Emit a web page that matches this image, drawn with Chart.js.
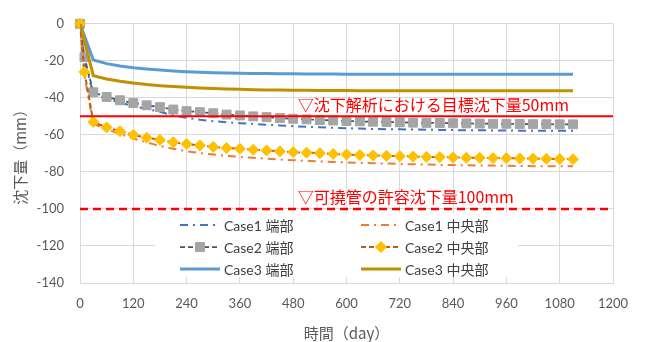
<!DOCTYPE html>
<html>
<head>
<meta charset="utf-8">
<script src="https://cdn.jsdelivr.net/npm/chart.js@4.4.1/dist/chart.umd.min.js"></script>
<style>
  html, body { margin: 0; padding: 0; background: #ffffff; }
  #wrap { width: 645px; height: 342px; }
</style>
</head>
<body>
<div id="wrap"><canvas id="c" width="645" height="342"></canvas></div>
<script>
// 経過日数
const days = [0, 10, 30, 60, 90, 120, 150, 180, 210, 240, 270, 300, 330, 360, 390, 420,
  450, 480, 510, 540, 570, 600, 630, 660, 690, 720, 750, 780, 810, 840, 870, 900,
  930, 960, 990, 1020, 1050, 1080, 1110];

// 沈下量 (mm)
const case1Edge = [0, -20, -38, -40.5, -42.5, -44.5, -46, -47.5, -49.5, -50.8, -51.8, -52.6,
  -53.2, -53.7, -54.1, -54.5, -54.9, -55.3, -55.6, -55.9, -56.2, -56.4, -56.6, -56.8,
  -56.9, -57.0, -57.1, -57.2, -57.3, -57.4, -57.5, -57.5, -57.6, -57.6, -57.7, -57.7,
  -57.8, -57.8, -57.8];
const case1Center = [0, -28, -54, -57, -59.5, -62, -64, -66, -67.5, -68.8, -69.8, -70.6,
  -71.3, -71.9, -72.4, -72.9, -73.3, -73.7, -74, -74.3, -74.6, -74.9, -75.1, -75.3,
  -75.5, -75.7, -75.9, -76, -76.2, -76.3, -76.4, -76.5, -76.6, -76.7, -76.8, -76.9,
  -76.9, -77, -77];
const case2Edge = [0, -18, -37, -39.5, -41.3, -42.8, -44, -45, -46.3, -47.2, -47.7, -48.3,
  -49, -49.5, -50, -50.4, -50.9, -51.3, -51.6, -52, -52.2, -52.5, -52.7, -52.9,
  -53.1, -53.2, -53.4, -53.5, -53.6, -53.7, -53.8, -53.9, -54, -54, -54.1, -54.2,
  -54.2, -54.3, -54.3];
const case2Center = [0, -26, -53, -56, -58, -60, -61.5, -62.7, -64, -64.9, -65.7, -66.5,
  -67.1, -67.5, -68, -68.4, -68.9, -69.3, -69.6, -69.9, -70.3, -70.6, -70.9, -71.1,
  -71.3, -71.5, -71.7, -71.9, -72, -72.2, -72.3, -72.4, -72.5, -72.6, -72.7, -72.8,
  -72.9, -73, -73.1];
const case3Edge = [0, null, -19.5, -21.5, -22.8, -23.7, -24.4, -25, -25.5, -25.9, -26.2, -26.4,
  -26.6, -26.7, -26.8, -26.9, -27, -27, -27.1, -27.1, -27.1, -27.2, -27.2, -27.2,
  -27.2, -27.2, -27.2, -27.2, -27.2, -27.2, -27.2, -27.2, -27.2, -27.2, -27.2, -27.2,
  -27.2, -27.2, -27.2];
const case3Center = [0, null, -28, -29.8, -31, -32, -32.8, -33.4, -33.9, -34.3, -34.7, -35,
  -35.2, -35.4, -35.6, -35.7, -35.8, -35.9, -35.9, -36, -36, -36, -36.1, -36.1,
  -36.1, -36.1, -36.1, -36.1, -36.1, -36.1, -36.1, -36.1, -36.1, -36.1, -36.1, -36.1,
  -36.1, -36.1, -36.1];

// 基準線
const limitDays = [0, 1200];
const targetSettlement = -50;     // 目標沈下量
const allowableSettlement = -100; // 許容沈下量

const seriesNames = ['Case1 端部', 'Case1 中央部', 'Case2 端部', 'Case2 中央部', 'Case3 端部', 'Case3 中央部'];
const targetLabel = '▽沈下解析における目標沈下量50mm';
const allowableLabel = '▽可撓管の許容沈下量100mm';

// 軸範囲
const xMin = 0, xMax = 1200, xStep = 120;
const yMin = -140, yMax = 0, yStep = 20;

const FONT = "Lato, 'Noto Sans CJK JP', sans-serif";
const JPFONT = "'Noto Sans CJK JP', Lato, sans-serif";

const pts = arr => days.map((d, i) => ({ x: d, y: arr[i] }));
const flat = v => limitDays.map(d => ({ x: d, y: v }));

const datasets = [
  { label: 'target', data: flat(targetSettlement), borderColor: '#ff0000', borderWidth: 2,
    pointRadius: 0, order: 0 },
  { label: 'allowable', data: flat(allowableSettlement), borderColor: '#ff0000', borderWidth: 2.5,
    borderDash: [8, 5], pointRadius: 0, order: 0 },
  { label: seriesNames[0], data: pts(case1Edge), borderColor: '#4472c4', borderWidth: 2,
    borderDash: [8, 5, 2, 5], pointRadius: 0, order: 6 },
  { label: seriesNames[1], data: pts(case1Center), borderColor: '#ed7d31', borderWidth: 2,
    borderDash: [8, 5, 2, 5], pointRadius: 0, order: 5 },
  { label: seriesNames[2], data: pts(case2Edge), borderColor: '#44546a', borderWidth: 1.75,
    borderDash: [5, 3], pointStyle: 'rect', pointRadius: 6.3, pointBackgroundColor: '#a5a5a5',
    pointBorderColor: '#a5a5a5', pointBorderWidth: 1, order: 4, clip: false },
  { label: seriesNames[3], data: pts(case2Center), borderColor: '#c55a11', borderWidth: 2,
    borderDash: [5, 3], pointStyle: 'rectRot', pointRadius: 5.5, pointBackgroundColor: '#ffc000',
    pointBorderColor: '#ffc000', pointBorderWidth: 1, order: 3, clip: false },
  { label: seriesNames[4], data: pts(case3Edge), borderColor: '#5b9bd5', borderWidth: 3,
    pointRadius: 0, spanGaps: true, order: 2 },
  { label: seriesNames[5], data: pts(case3Center), borderColor: '#bf9000', borderWidth: 3,
    pointRadius: 0, spanGaps: true, order: 1 }
];

// 凡例と注記の描画
const overlay = {
  id: 'overlay',
  afterDraw(chart) {
    const { ctx, scales: { x, y } } = chart;
    ctx.save();
    // 注記
    ctx.fillStyle = '#ff0000';
    ctx.font = '16px ' + JPFONT;
    ctx.textAlign = 'left';
    ctx.textBaseline = 'alphabetic';
    ctx.fillText(targetLabel, x.getPixelForValue(490), y.getPixelForValue(targetSettlement) - 5);
    ctx.fillText(allowableLabel, x.getPixelForValue(490), y.getPixelForValue(allowableSettlement) - 6);

    // 凡例
    const boxL = 155, boxT = 213, boxR = 518, boxB = 277;
    ctx.fillStyle = '#ffffff';
    ctx.fillRect(boxL, boxT, boxR - boxL, boxB - boxT);
    const cols = [180, 361];
    const rows = [225, 247, 269];
    const items = datasets.slice(2);
    items.forEach((ds, i) => {
      const cx = cols[i % 2];
      const cy = rows[Math.floor(i / 2)];
      ctx.save();
      ctx.strokeStyle = ds.borderColor;
      ctx.lineWidth = ds.borderWidth;
      ctx.setLineDash(ds.borderDash || []);
      ctx.beginPath();
      ctx.moveTo(cx, cy);
      ctx.lineTo(cx + 40, cy);
      ctx.stroke();
      ctx.restore();
      if (ds.pointRadius > 0) {
        ctx.save();
        ctx.fillStyle = ds.pointBackgroundColor;
        ctx.strokeStyle = ds.pointBorderColor;
        ctx.lineWidth = 1;
        Chart.helpers.drawPoint(ctx, {
          pointStyle: ds.pointStyle, radius: ds.pointRadius, borderWidth: 1, rotation: 0
        }, cx + 20, cy);
        ctx.restore();
      }
      ctx.fillStyle = '#404040';
      ctx.font = '14px ' + FONT;
      ctx.textAlign = 'left';
      ctx.textBaseline = 'middle';
      ctx.fillText(ds.label, cx + 44, cy + 1);
    });
    ctx.restore();
  }
};

new Chart(document.getElementById('c'), {
  type: 'line',
  data: { datasets },
  options: {
    responsive: false,
    animation: false,
    devicePixelRatio: 1,
    layout: { padding: { left: 0, right: 32, top: 13, bottom: 0 } },
    plugins: { legend: { display: false }, tooltip: { enabled: false } },
    elements: { line: { tension: 0 } },
    scales: {
      x: {
        type: 'linear', min: xMin, max: xMax,
        ticks: { stepSize: xStep, color: '#595959', font: { family: FONT, size: 13 }, padding: 13,
          maxRotation: 0, callback: v => String(v) },
        grid: { color: '#d9d9d9', drawTicks: false },
        border: { color: '#d9d9d9' },
        title: { display: true, text: '時間（day）', color: '#595959',
          font: { family: JPFONT, size: 15 }, padding: { top: 4, bottom: 0 } },
        afterFit(s) { s.height = 59; }
      },
      y: {
        type: 'linear', min: yMin, max: yMax,
        ticks: { stepSize: yStep, color: '#595959', font: { family: FONT, size: 13 }, padding: 16,
          callback: v => String(v) },
        grid: { color: '#d9d9d9', drawTicks: false },
        border: { color: '#d9d9d9' },
        title: { display: true, text: '沈下量（mm）', color: '#595959',
          font: { family: JPFONT, size: 15 }, padding: { top: 11, bottom: 4 } },
        afterFit(s) { s.width = 80; }
      }
    }
  },
  plugins: [overlay]
});
</script>
</body>
</html>
